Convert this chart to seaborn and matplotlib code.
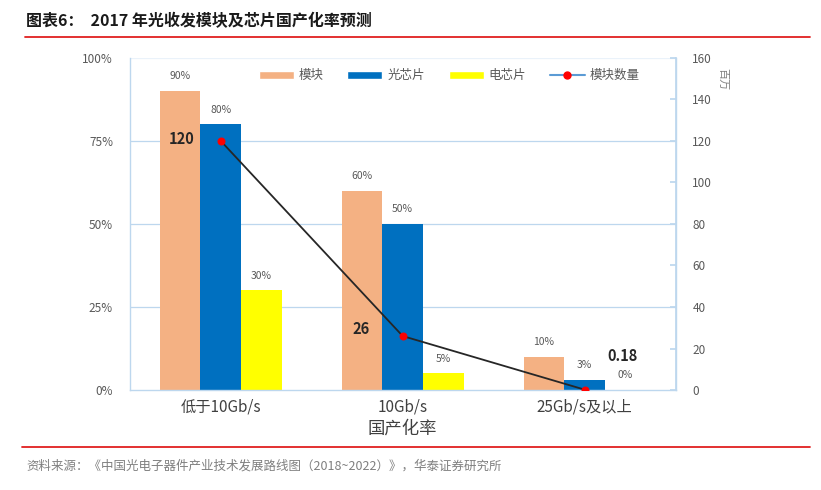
import matplotlib
matplotlib.use("Agg")
import matplotlib.pyplot as plt
import seaborn as sns
import pandas as pd
from matplotlib.patches import Patch
from matplotlib.lines import Line2D

categories = ["低于10Gb/s", "10Gb/s", "25Gb/s及以上"]
series_names = ["模块", "光芯片", "电芯片"]
module_rate = [90, 60, 10]
optical_chip_rate = [80, 50, 3]
electric_chip_rate = [30, 5, 0]
module_qty = [120, 26, 0.18]
qty_labels = ["120", "26", "0.18"]
left_ticks = [0, 25, 50, 75, 100]
right_ticks = [0, 20, 40, 60, 80, 100, 120, 140, 160]

colors = ["#F4B183", "#0070C0", "#FFFF00"]

sns.set_theme(style="white")
plt.rcParams['font.family'] = ['Noto Sans CJK SC', 'DejaVu Sans']

rows = []
for name, vals in zip(series_names, [module_rate, optical_chip_rate, electric_chip_rate]):
    for c, v in zip(categories, vals):
        rows.append({"cat": c, "series": name, "val": v})
df = pd.DataFrame(rows)

fig = plt.figure(figsize=(8.21, 4.90), dpi=100)
ax = fig.add_axes([0.158, 0.204, 0.665, 0.678])

sns.barplot(data=df, x="cat", y="val", hue="series", palette=colors,
            width=0.67, gap=0, ax=ax, legend=False, saturation=1,
            order=categories, hue_order=series_names, linewidth=0,
            edgecolor="none")

grid_c = "#BDD7EE"
ax.set_ylim(0, 100)
ax.set_xlim(-0.5, 2.5)
ax.set_yticks(left_ticks)
ax.set_yticklabels([f"{t}%" for t in left_ticks], color="#595959", fontsize=8.5)
ax.tick_params(axis="y", length=0, pad=12)
ax.tick_params(axis="x", length=0, labelsize=11, labelcolor="#404040", pad=6)
for t in left_ticks[1:]:
    ax.axhline(t, color=grid_c if t < 100 else "#EAF2FA", lw=0.9, zorder=0)
ax.spines["top"].set_visible(False)
for s in ["left", "right", "bottom"]:
    ax.spines[s].set_color(grid_c)
    ax.spines[s].set_linewidth(1.0)
ax.set_xlabel("国产化率", fontsize=12.5, color="#404040", labelpad=3)
ax.set_ylabel("")

for cont in ax.containers:
    ax.bar_label(cont, labels=[f"{v:.0f}%" for v in cont.datavalues],
                 padding=7, fontsize=7.5, color="#595959")

ax2 = ax.twinx()
sns.lineplot(x=[0, 1, 2], y=module_qty, ax=ax2, color="#262626", lw=1.3,
             marker="o", markersize=5, markerfacecolor="red",
             markeredgecolor="red", zorder=5)
ax2.set_ylim(0, 160)
ax2.set_yticks(right_ticks)
ax2.set_yticklabels([str(t) for t in right_ticks], color="#595959", fontsize=8.5)
ax2.tick_params(axis="y", direction="in", length=4, color=grid_c, pad=12)
for s in ["top", "left", "bottom"]:
    ax2.spines[s].set_visible(False)
ax2.spines["right"].set_color(grid_c)
ax2.set_ylabel("")
ax2.text(1.085, 0.97, "百万", transform=ax2.transAxes, rotation=-90,
         fontsize=8, color="#7F7F7F", ha="center", va="top")

offsets = [(-28, 1.5), (-30, 5), (27, 24)]
for x, y, lab, (dx, dy) in zip([0, 1, 2], module_qty, qty_labels, offsets):
    ax2.annotate(lab, (x, y), xytext=(dx, dy), textcoords="offset points",
                 ha="center", va="center", fontsize=10.5, fontweight="bold",
                 color="#262626")

handles = [Patch(facecolor=c, label=n) for c, n in zip(colors, series_names)]
handles.append(Line2D([], [], color="#5B9BD5", lw=1.5, marker="o",
                      markersize=5, markerfacecolor="red",
                      markeredgecolor="red", label="模块数量"))
leg = ax2.legend(handles=handles, loc="upper right", bbox_to_anchor=(0.955, 1.0),
                 ncol=4, frameon=False, fontsize=9, handlelength=2.8,
                 handleheight=0.6, columnspacing=1.9, handletextpad=0.4)
for t in leg.get_texts():
    t.set_color("#595959")

fig.text(0.032, 0.958, "图表6：  2017 年光收发模块及芯片国产化率预测",
         fontsize=11.5, fontweight="bold", color="#1a1a1a", ha="left", va="center")
fig.add_artist(Line2D([0.030, 0.987], [0.925, 0.925], color="#E02020", lw=1.3,
                      transform=fig.transFigure))
fig.add_artist(Line2D([0.027, 0.987], [0.088, 0.088], color="#E02020", lw=1.3,
                      transform=fig.transFigure))
fig.text(0.032, 0.049, "资料来源：《中国光电子器件产业技术发展路线图（2018~2022）》，华泰证券研究所",
         fontsize=9, color="#7F7F7F", ha="left", va="center")

fig.savefig("out.png", dpi=100)
